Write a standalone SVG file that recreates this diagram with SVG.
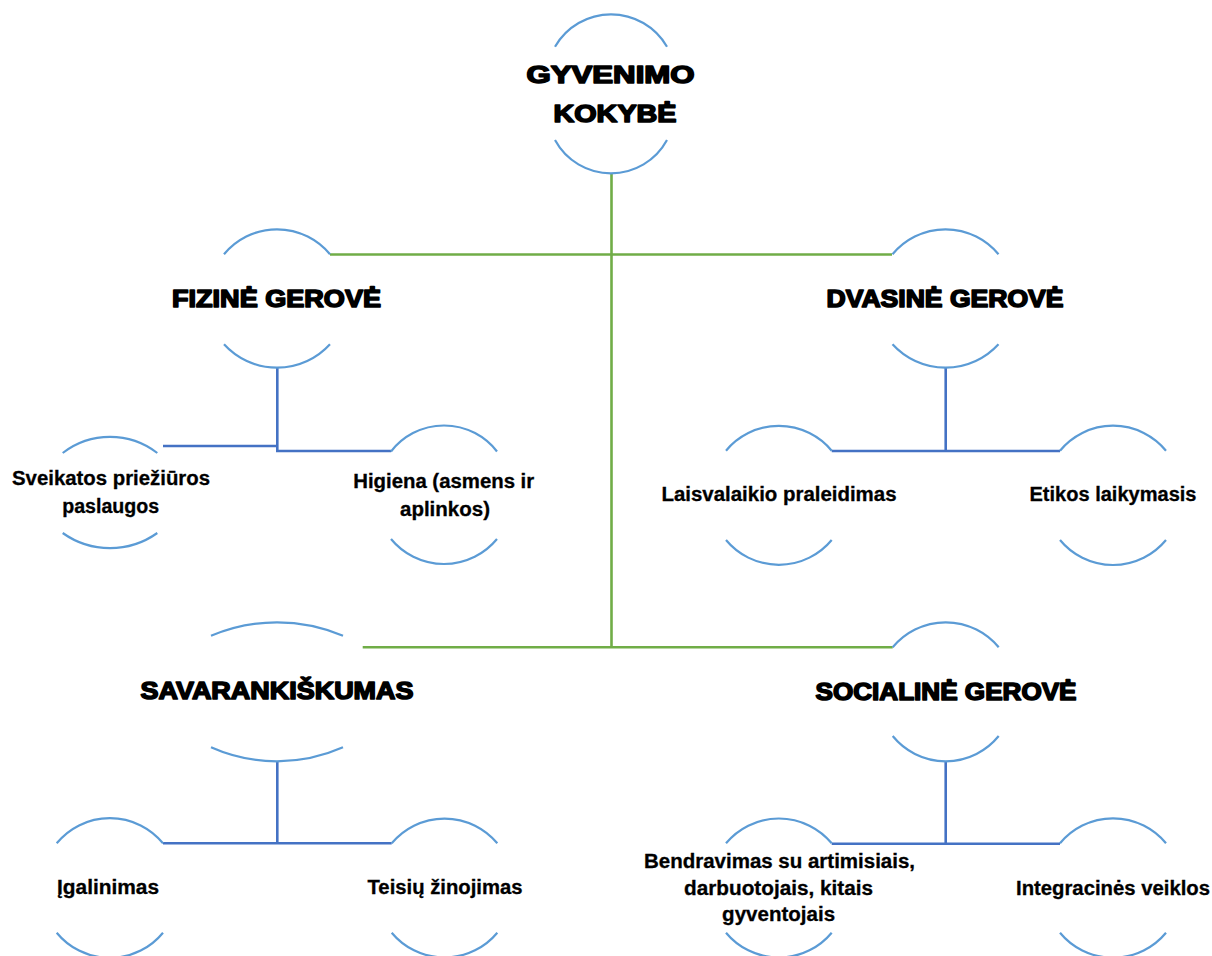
<svg xmlns="http://www.w3.org/2000/svg" width="1212" height="956" viewBox="0 0 1212 956">
<style>
.arc{fill:none;stroke:#5B9BD5;stroke-width:2.2;}
.g{fill:none;stroke:#70AD47;stroke-width:2.6;}
.b{fill:none;stroke:#4472C4;stroke-width:2.6;}
.h{font-family:"Liberation Sans",Arial,sans-serif;font-weight:bold;font-size:24.5px;fill:#000;stroke:#000;stroke-width:1.6;stroke-linejoin:round;text-anchor:middle;}
.s{font-family:"Liberation Sans",Arial,sans-serif;font-weight:bold;font-size:20px;fill:#000;stroke:#000;stroke-width:0.3;text-anchor:middle;}
</style>
<rect width="1212" height="956" fill="#fff"/>
<g id="connectors">
<path class="g" d="M611.5,173 V647.3"/>
<path class="g" d="M330,254.5 H892"/>
<path class="g" d="M362.7,647.3 H892.7"/>
<path class="b" d="M277.3,368 V451 H391"/>
<path class="b" d="M163,446 H277.3"/>
<path class="b" d="M945.7,368 V451"/>
<path class="b" d="M831.7,451 H1060"/>
<path class="b" d="M277.3,761 V843.3"/>
<path class="b" d="M163,843.3 H391.7"/>
<path class="b" d="M945.7,761 V843.7"/>
<path class="b" d="M831.7,843.7 H1060"/>
</g>
<g id="root">
<path class="arc" d="M555,46.7 A64.6,64.6 0 0 1 667,46.7"/>
<path class="arc" d="M555,140 A63.7,63.7 0 0 0 667,140"/>
<text class="h" x="610.5" y="83" textLength="168" lengthAdjust="spacingAndGlyphs">GYVENIMO</text>
<text class="h" x="615" y="122" textLength="123" lengthAdjust="spacingAndGlyphs">KOKYBĖ</text>
</g>
<g id="fizine">
<path class="arc" d="M224,254.3 A68.7,68.7 0 0 1 330,254.3"/>
<path class="arc" d="M224,344.3 A71.7,71.7 0 0 0 330,344.3"/>
<text class="h" x="276.5" y="307" textLength="209" lengthAdjust="spacingAndGlyphs">FIZINĖ GEROVĖ</text>
</g>
<g id="dvasine">
<path class="arc" d="M892.5,254.3 A68.7,68.7 0 0 1 998.5,254.3"/>
<path class="arc" d="M892.5,344.3 A71.7,71.7 0 0 0 998.5,344.3"/>
<text class="h" x="945" y="307" textLength="237" lengthAdjust="spacingAndGlyphs">DVASINĖ GEROVĖ</text>
</g>
<g id="savarankiskumas">
<path class="arc" d="M211,635.7 A169,169 0 0 1 343,635.7"/>
<path class="arc" d="M211,747.3 A162.6,162.6 0 0 0 343,747.3"/>
<text class="h" x="277" y="699" textLength="273" lengthAdjust="spacingAndGlyphs">SAVARANKIŠKUMAS</text>
</g>
<g id="sociali">
<path class="arc" d="M892.7,647.3 A68.7,68.7 0 0 1 998.7,647.3"/>
<path class="arc" d="M892.7,736 A68.2,68.2 0 0 0 998.7,736"/>
<text class="h" x="946" y="700" textLength="261" lengthAdjust="spacingAndGlyphs">SOCIALINĖ GEROVĖ</text>
</g>
<g id="sveikatos">
<path class="arc" d="M62.7,453 A77.5,77.5 0 0 1 157.3,453"/>
<path class="arc" d="M62.7,533 A81.6,81.6 0 0 0 157.3,533"/>
<text class="s" x="111" y="485" textLength="198" lengthAdjust="spacingAndGlyphs">Sveikatos priežiūros</text>
<text class="s" x="110.7" y="513" textLength="97" lengthAdjust="spacingAndGlyphs">paslaugos</text>
</g>
<g id="higiena">
<path class="arc" d="M391,451.5 A67,67 0 0 1 497,451.5"/>
<path class="arc" d="M391,539 A68.7,68.7 0 0 0 497,539"/>
<text class="s" x="443.7" y="488" textLength="181" lengthAdjust="spacingAndGlyphs">Higiena (asmens ir</text>
<text class="s" x="445" y="516" textLength="90" lengthAdjust="spacingAndGlyphs">aplinkos)</text>
</g>
<g id="laisvalaikio">
<path class="arc" d="M726,450.7 A68.7,68.7 0 0 1 831.7,450.7"/>
<path class="arc" d="M726,540 A68.7,68.7 0 0 0 831.7,540"/>
<text class="s" x="779" y="501" textLength="235" lengthAdjust="spacingAndGlyphs">Laisvalaikio praleidimas</text>
</g>
<g id="etikos">
<path class="arc" d="M1060,450.7 A68.7,68.7 0 0 1 1166,450.7"/>
<path class="arc" d="M1060,540 A68.7,68.7 0 0 0 1166,540"/>
<text class="s" x="1113" y="501" textLength="167" lengthAdjust="spacingAndGlyphs">Etikos laikymasis</text>
</g>
<g id="igalinimas">
<path class="arc" d="M56.7,843.3 A68.7,68.7 0 0 1 163,843.3"/>
<path class="arc" d="M56.7,932.7 A68.7,68.7 0 0 0 163,932.7"/>
<text class="s" x="108" y="894" textLength="102" lengthAdjust="spacingAndGlyphs">Įgalinimas</text>
</g>
<g id="teisiu">
<path class="arc" d="M391.7,843.3 A68.7,68.7 0 0 1 497.3,843.3"/>
<path class="arc" d="M391.7,932.7 A68.7,68.7 0 0 0 497.3,932.7"/>
<text class="s" x="445" y="894" textLength="155" lengthAdjust="spacingAndGlyphs">Teisių žinojimas</text>
</g>
<g id="bendravimas">
<path class="arc" d="M726,843.3 A68.7,68.7 0 0 1 831.7,843.3"/>
<path class="arc" d="M726,932.7 A68.7,68.7 0 0 0 831.7,932.7"/>
<text class="s" x="779.5" y="868" textLength="271" lengthAdjust="spacingAndGlyphs">Bendravimas su artimisiais,</text>
<text class="s" x="778.6" y="895" textLength="189" lengthAdjust="spacingAndGlyphs">darbuotojais, kitais</text>
<text class="s" x="778.6" y="921" textLength="113" lengthAdjust="spacingAndGlyphs">gyventojais</text>
</g>
<g id="integracines">
<path class="arc" d="M1060,843.3 A68.7,68.7 0 0 1 1166,843.3"/>
<path class="arc" d="M1060,932.7 A68.7,68.7 0 0 0 1166,932.7"/>
<text class="s" x="1113" y="895" textLength="194" lengthAdjust="spacingAndGlyphs">Integracinės veiklos</text>
</g>
</svg>
